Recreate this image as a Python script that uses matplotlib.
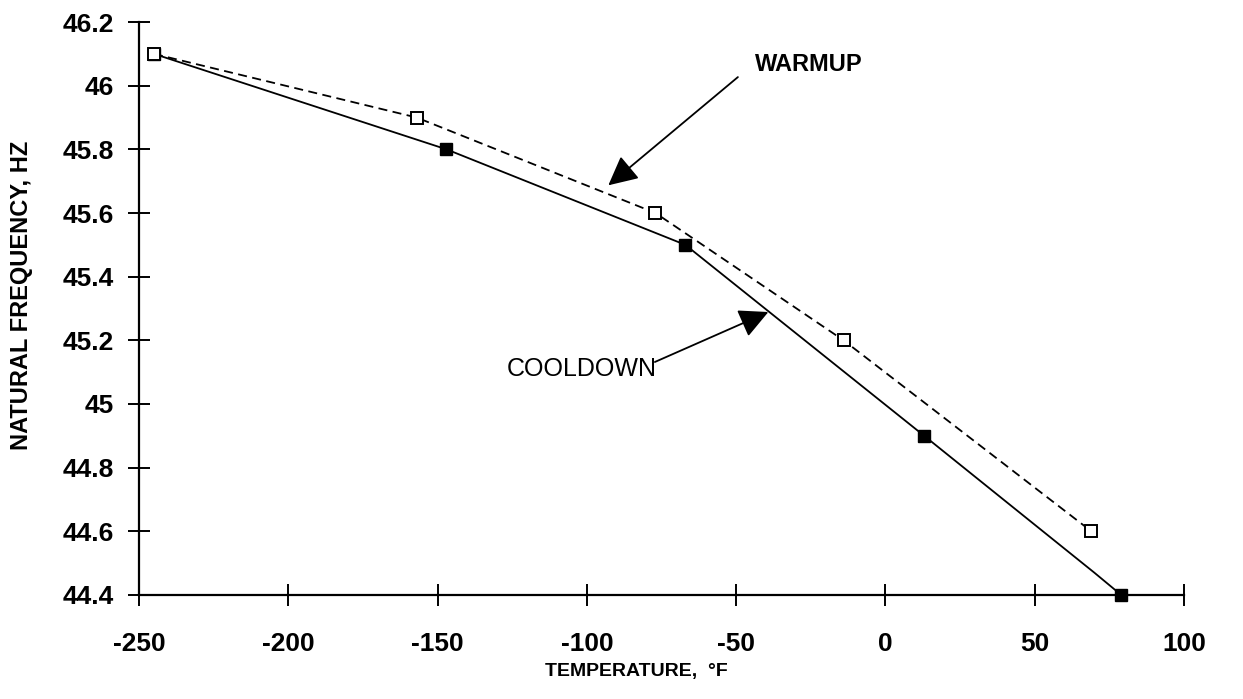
import matplotlib
matplotlib.use("Agg")
import matplotlib.pyplot as plt

plt.rcParams['font.family'] = ['Liberation Sans', 'DejaVu Sans']
plt.rcParams['axes.unicode_minus'] = False

# cooldown curve (filled squares); one corner point near 70 F has no marker
cool_temp = [-245, -147, -67, 13, 70, 79]
cool_freq = [46.1, 45.8, 45.5, 44.9, 44.47, 44.4]
cool_marked = [0, 1, 2, 3, 5]

# warmup curve (open squares)
warm_temp = [-245, -157, -77, -14, 69]
warm_freq = [46.1, 45.9, 45.6, 45.2, 44.6]

xticks = [-250, -200, -150, -100, -50, 0, 50, 100]
yticks = [44.4, 44.6, 44.8, 45.0, 45.2, 45.4, 45.6, 45.8, 46.0, 46.2]
ytick_labels = ['44.4', '44.6', '44.8', '45', '45.2', '45.4', '45.6', '45.8', '46', '46.2']

fig = plt.figure(figsize=(12.43, 6.99), dpi=100)
ax = fig.add_axes([0.1118, 0.1488, 0.8407, 0.8197])

ax.plot(cool_temp, cool_freq, color='black', lw=1.3, marker='s', markersize=8,
        markerfacecolor='black', markeredgecolor='black', markevery=cool_marked,
        clip_on=False, zorder=3)
ax.plot(warm_temp, warm_freq, color='black', lw=1.3, linestyle=(0, (5, 3)),
        marker='s', markersize=9, markerfacecolor='white', markeredgecolor='black',
        markeredgewidth=1.4, clip_on=False, zorder=4)

ax.set_xlim(-250, 100)
ax.set_ylim(44.4, 46.2)
ax.set_xticks(xticks)
ax.set_yticks(yticks)
ax.set_yticklabels(ytick_labels)

for side in ['top', 'right']:
    ax.spines[side].set_visible(False)
for side in ['left', 'bottom']:
    ax.spines[side].set_linewidth(1.6)

ax.tick_params(axis='both', direction='inout', length=16, width=1.4, labelsize=19)
ax.tick_params(axis='y', pad=10)
ax.tick_params(axis='x', pad=19)
for lab in ax.get_xticklabels() + ax.get_yticklabels():
    lab.set_fontweight('bold')

ax.set_xlabel('TEMPERATURE,  \u00b0F', fontsize=14, fontweight='bold')
ax.set_ylabel('NATURAL FREQUENCY, HZ', fontsize=17, fontweight='bold')
ax.xaxis.set_label_coords(0.476, -0.1187)
ax.yaxis.set_label_coords(-0.1014, 0.5236)

arrow = dict(arrowstyle='-|>', mutation_scale=45, lw=1.3, color='black',
             shrinkA=0, shrinkB=0)
ax.annotate('', xy=(-92.8, 45.687), xytext=(-49.4, 46.027), arrowprops=arrow)
ax.annotate('', xy=(-39.2, 45.289), xytext=(-77.2, 45.132), arrowprops=arrow)

ax.text(-43.7, 46.068, 'WARMUP', fontsize=17, fontweight='bold', ha='left', va='center')
ax.text(-126.8, 45.109, 'COOLDOWN', fontsize=18, ha='left', va='center')

fig.savefig('out.png', dpi=100)
